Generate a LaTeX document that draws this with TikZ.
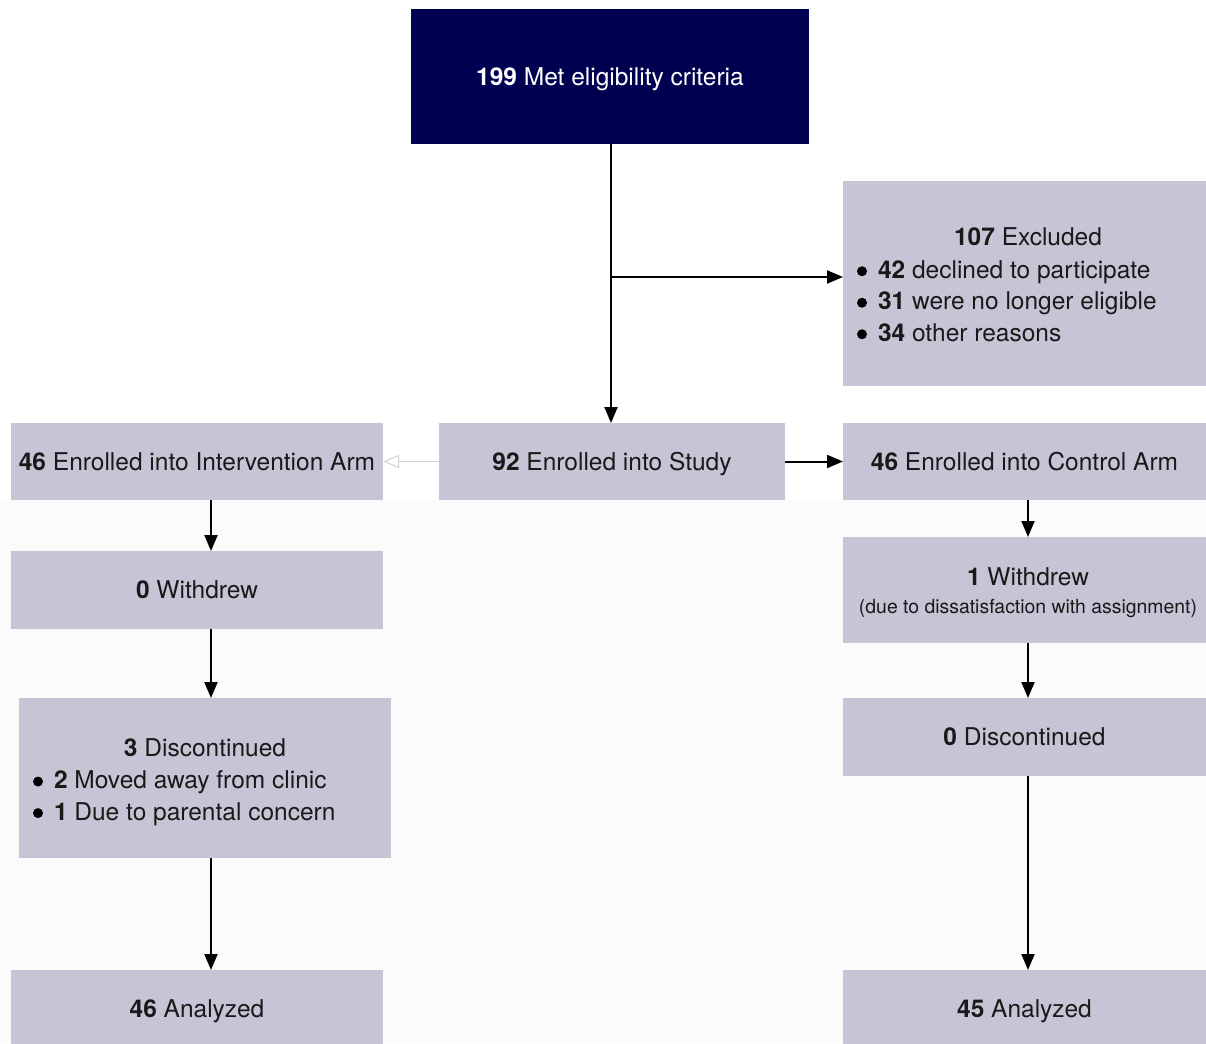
\documentclass[tikz,border=0pt]{standalone}
\usepackage{fontspec}
\setmainfont{TeX Gyre Heros}
\usetikzlibrary{arrows.meta}
\definecolor{navy}{RGB}{0,0,80}
\definecolor{boxfill}{RGB}{198,197,213}
\definecolor{txt}{RGB}{25,25,25}
\definecolor{bg}{RGB}{251,251,251}
\newcommand{\mybul}{\tikz[baseline=0pt]\fill[black] (5pt,7pt) circle[radius=5pt];\hspace{11pt}}
\begin{document}
\begin{tikzpicture}[x=1pt,y=-1pt,
  box/.style={rectangle,fill=boxfill,inner sep=0pt,outer sep=0pt,text=txt,
    font=\fontsize{24.5}{31.5}\selectfont,align=center,text height=17.6pt,text depth=0pt},
  lbl/.style={inner sep=0pt,outer sep=0pt,text=txt,font=\fontsize{24.5}{31.5}\selectfont,anchor=west,align=left},
  one/.style={inner sep=0pt,outer sep=0pt,text=txt,font=\fontsize{24.5}{31.5}\selectfont,anchor=center,text height=17.6pt,text depth=0pt},
  arr/.style={line width=2pt,-{Triangle[length=16pt,width=13pt]}},
  faint/.style={line width=1pt,draw=black!18,-{Triangle[open,length=16pt,width=13pt]}}]
\useasboundingbox (0,0) rectangle (1206,1043);
\fill[white] (0,0) rectangle (1206,1043);
\fill[bg] (0,500) rectangle (1206,1043);
% boxes
\node[box,fill=navy,text=white,minimum width=398pt,minimum height=135pt] (top) at (610,76.5) {\textbf{199} Met eligibility criteria};
\node[box,minimum width=363pt,minimum height=205pt] (excl) at (1024.5,283.5) {};
\node[one] (exclh) at (1028,237) {\textbf{107} Excluded};
\node[lbl] (exclb) at (857,301) {\mybul\textbf{42} declined to participate\\ \mybul\textbf{31} were no longer eligible\\ \mybul\textbf{34} other reasons};
\node[box,minimum width=346pt,minimum height=77pt] (enr) at (612,461.5) {\textbf{92} Enrolled into Study};
\node[box,minimum width=372pt,minimum height=77pt] (intv) at (197,461.5) {\textbf{46} Enrolled into Intervention Arm};
\node[box,minimum width=363pt,minimum height=77pt] (ctrl) at (1024.5,461.5) {\textbf{46} Enrolled into Control Arm};
\node[box,minimum width=372pt,minimum height=78pt] (wdl) at (197,590) {\textbf{0} Withdrew};
\node[box,minimum width=372pt,minimum height=160pt] (disl) at (205,778) {};
\node[one] (dislh) at (205,748) {\textbf{3} Discontinued};
\node[lbl] (dislb) at (33,798) {\mybul\textbf{2} Moved away from clinic\\ \mybul\textbf{1} Due to parental concern};
\node[box,minimum width=372pt,minimum height=77pt] (anal) at (197,1008.5) {\textbf{46} Analyzed};
\node[box,minimum width=363pt,minimum height=106pt] (wdr) at (1024.5,590) {};
\node[one] (wdrh) at (1028,577) {\textbf{1} Withdrew};
\node[one,font=\fontsize{19.4}{22}\selectfont,text height=13.9pt] (wdrs) at (1028,607) {(due to dissatisfaction with assignment)};
\node[box,minimum width=363pt,minimum height=78pt] (disr) at (1024.5,737) {\textbf{0} Discontinued};
\node[box,minimum width=363pt,minimum height=77pt] (anar) at (1024.5,1008.5) {\textbf{45} Analyzed};
% connectors
\coordinate (br) at (611,277);
\draw[line width=2pt] (top.south -| br) -- (br);
\draw[arr] (br) -- (br |- enr.north);
\draw[arr] (br) -- (br -| excl.west);
\draw[faint] (enr.west) -- (intv.east);
\draw[arr] (enr.east) -- (ctrl.west);
\draw[arr] (intv.south -| 211,0) -- (wdl.north -| 211,0);
\draw[arr] (wdl.south -| 211,0) -- (disl.north -| 211,0);
\draw[arr] (disl.south -| 211,0) -- (anal.north -| 211,0);
\draw[arr] (ctrl.south -| 1028,0) -- (wdr.north -| 1028,0);
\draw[arr] (wdr.south -| 1028,0) -- (disr.north -| 1028,0);
\draw[arr] (disr.south -| 1028,0) -- (anar.north -| 1028,0);
\end{tikzpicture}
\end{document}
